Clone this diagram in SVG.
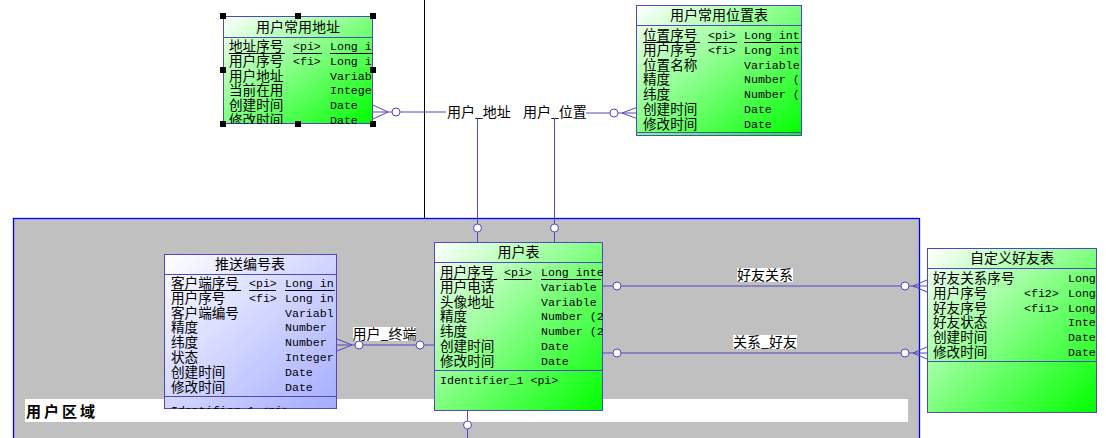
<svg xmlns="http://www.w3.org/2000/svg" width="1106" height="438" viewBox="0 0 1106 438">
<style>
.box{stroke:#5048c0;stroke-width:1}
.sep{stroke:#5048c0;stroke-width:1}
.t{font-family:"Noto Sans CJK SC","Noto Sans",sans-serif;font-size:14px;fill:#000}
.r{font-size:13.6px}
.m{font-family:"Liberation Mono",monospace;font-size:11.6px;fill:#000}
.title{text-anchor:middle}
.ul{stroke:#000;stroke-width:1}
.c{stroke:#5048c0;stroke-width:1;fill:none}
.o{stroke:#5048c0;stroke-width:1;fill:#fff}
.h{fill:#000}
.lb{fill:#fff}
</style>
<defs>
<linearGradient id="g" x1="0" y1="0" x2="1" y2="1">
<stop offset="0" stop-color="#ffffff"/>
<stop offset="1" stop-color="#00ff00"/>
</linearGradient>
<linearGradient id="b" x1="0" y1="0" x2="1" y2="1">
<stop offset="0" stop-color="#ffffff"/>
<stop offset="1" stop-color="#a4acff"/>
</linearGradient>
<clipPath id="c1"><rect x="223" y="16" width="150" height="108"/></clipPath>
<clipPath id="c2"><rect x="636" y="5" width="166" height="131"/></clipPath>
<clipPath id="c3"><rect x="164" y="254" width="173" height="155"/></clipPath>
<clipPath id="c4"><rect x="434" y="242" width="169" height="169"/></clipPath>
<clipPath id="c5"><rect x="927" y="248" width="170" height="165"/></clipPath>
</defs>
<rect width="1106" height="438" fill="#fff"/>
<line x1="424.5" y1="0" x2="424.5" y2="218" stroke="#000" stroke-width="1"/>
<g id="area">
<rect x="13.5" y="218.5" width="906" height="230" fill="#c0c0c0" stroke="#0000ff" stroke-width="1.3"/>
<rect x="25" y="399" width="883" height="23" fill="#fff"/>
<text x="26" y="417" font-family="'Noto Sans CJK SC',sans-serif" font-size="15" font-weight="bold" letter-spacing="3">用户区域</text>
</g>
<g id="connectors">
<polyline class="c" points="373,105 388,112 373,119"/>
<line class="c" x1="373" y1="112" x2="392" y2="112"/>
<circle class="o" cx="396" cy="112" r="4"/>
<line class="c" x1="400" y1="112" x2="446" y2="112"/>
<text class="t" x="447" y="117">用户_地址</text>
<line class="c" x1="477.5" y1="118" x2="477.5" y2="224"/>
<circle class="o" cx="477.5" cy="228" r="4"/>
<line class="c" x1="477.5" y1="232" x2="477.5" y2="242"/>
<text class="t" x="523" y="117">用户_位置</text>
<line class="c" x1="586" y1="113" x2="610" y2="113"/>
<circle class="o" cx="614" cy="113" r="4"/>
<polyline class="c" points="638,107 622,113 638,119"/>
<line class="c" x1="618" y1="113" x2="638" y2="113"/>
<line class="c" x1="554.5" y1="118" x2="554.5" y2="224"/>
<circle class="o" cx="554.5" cy="228" r="4"/>
<line class="c" x1="554.5" y1="232" x2="554.5" y2="242"/>
<line class="c" x1="603" y1="286" x2="613" y2="286"/>
<circle class="o" cx="617" cy="286" r="4"/>
<line class="c" x1="621" y1="286" x2="901" y2="286"/>
<circle class="o" cx="905" cy="286" r="4"/>
<polyline class="c" points="927,280 913,286 927,292"/>
<line class="c" x1="909" y1="286" x2="927" y2="286"/>
<rect class="lb" x="737" y="268" width="56" height="14"/>
<text class="t title" x="765" y="280">好友关系</text>
<line class="c" x1="603" y1="353" x2="613" y2="353"/>
<circle class="o" cx="617" cy="353" r="4"/>
<line class="c" x1="621" y1="353" x2="901" y2="353"/>
<circle class="o" cx="905" cy="353" r="4"/>
<polyline class="c" points="927,347 913,353 927,359"/>
<line class="c" x1="909" y1="353" x2="927" y2="353"/>
<rect class="lb" x="733" y="335" width="64" height="14"/>
<text class="t title" x="765" y="347">关系_好友</text>
<polyline class="c" points="337,339 352,345 337,351"/>
<line class="c" x1="337" y1="345" x2="355" y2="345"/>
<circle class="o" cx="359" cy="345" r="4"/>
<line class="c" x1="363" y1="345" x2="416" y2="345"/>
<circle class="o" cx="420" cy="345" r="4"/>
<line class="c" x1="424" y1="345" x2="434" y2="345"/>
<rect class="lb" x="353" y="327" width="63" height="14"/>
<text class="t title" x="384.5" y="339">用户_终端</text>
<line class="c" x1="467.5" y1="411" x2="467.5" y2="421"/>
<circle class="o" cx="467.5" cy="425" r="4"/>
<line class="c" x1="467.5" y1="429" x2="467.5" y2="438"/>
</g>
<g id="addr">
<rect class="box" x="223.5" y="16.5" width="149" height="107" fill="url(#g)"/>
<line class="sep" x1="223" y1="37.5" x2="373" y2="37.5"/>
<text class="t title" x="298" y="32">用户常用地址</text>
<g clip-path="url(#c1)">
<text class="t r" x="229" y="51">地址序号</text><text class="m" x="293" y="50">&lt;pi&gt;</text><text class="m" x="330" y="50">Long i</text>
<line class="ul" x1="229" y1="53.5" x2="285" y2="53.5"/><line class="ul" x1="293" y1="53.5" x2="322" y2="53.5"/><line class="ul" x1="330" y1="53.5" x2="373" y2="53.5"/>
<text class="t r" x="229" y="65.8">用户序号</text><text class="m" x="293" y="64.8">&lt;fi&gt;</text><text class="m" x="330" y="64.8">Long i</text>
<text class="t r" x="229" y="80.6">用户地址</text><text class="m" x="330" y="79.6">Variab</text>
<text class="t r" x="229" y="95.4">当前在用</text><text class="m" x="330" y="94.4">Intege</text>
<text class="t r" x="229" y="110.2">创建时间</text><text class="m" x="330" y="109.2">Date</text>
<text class="t r" x="229" y="125">修改时间</text><text class="m" x="330" y="124">Date</text>
</g>
<rect class="h" x="220" y="13" width="6" height="6"/><rect class="h" x="295" y="13" width="6" height="6"/><rect class="h" x="370" y="13" width="6" height="6"/>
<rect class="h" x="220" y="67" width="6" height="6"/><rect class="h" x="370" y="67" width="6" height="6"/>
<rect class="h" x="220" y="121" width="6" height="6"/><rect class="h" x="295" y="121" width="6" height="6"/><rect class="h" x="370" y="121" width="6" height="6"/>
</g>
<g id="loc">
<rect class="box" x="636.5" y="5.5" width="165" height="130" fill="url(#g)"/>
<line class="sep" x1="636" y1="25.5" x2="802" y2="25.5"/>
<line class="sep" x1="636" y1="132.5" x2="802" y2="132.5"/>
<text class="t title" x="719" y="20">用户常用位置表</text>
<g clip-path="url(#c2)">
<text class="t r" x="643" y="40">位置序号</text><text class="m" x="708" y="39">&lt;pi&gt;</text><text class="m" x="744" y="39">Long int</text>
<line class="ul" x1="643" y1="42.5" x2="700" y2="42.5"/><line class="ul" x1="708" y1="42.5" x2="737" y2="42.5"/><line class="ul" x1="744" y1="42.5" x2="801" y2="42.5"/>
<text class="t r" x="643" y="54.8">用户序号</text><text class="m" x="708" y="53.8">&lt;fi&gt;</text><text class="m" x="744" y="53.8">Long int</text>
<text class="t r" x="643" y="69.6">位置名称</text><text class="m" x="744" y="68.6">Variable</text>
<text class="t r" x="643" y="84.4">精度</text><text class="m" x="744" y="83.4">Number (</text>
<text class="t r" x="643" y="99.2">纬度</text><text class="m" x="744" y="98.2">Number (</text>
<text class="t r" x="643" y="114">创建时间</text><text class="m" x="744" y="113">Date</text>
<text class="t r" x="643" y="128.8">修改时间</text><text class="m" x="744" y="127.8">Date</text>
</g>
</g>
<g id="push">
<rect class="box" x="164.5" y="254.5" width="172" height="154" fill="url(#b)"/>
<line class="sep" x1="164" y1="274.5" x2="337" y2="274.5"/>
<line class="sep" x1="164" y1="396.5" x2="337" y2="396.5"/>
<text class="t title" x="250" y="269">推送编号表</text>
<g clip-path="url(#c3)">
<text class="t r" x="171" y="288">客户端序号</text><text class="m" x="249" y="287">&lt;pi&gt;</text><text class="m" x="285" y="287">Long in</text>
<line class="ul" x1="171" y1="290.5" x2="241" y2="290.5"/><line class="ul" x1="249" y1="290.5" x2="276" y2="290.5"/><line class="ul" x1="285" y1="290.5" x2="335" y2="290.5"/>
<text class="t r" x="171" y="302.8">用户序号</text><text class="m" x="249" y="301.8">&lt;fi&gt;</text><text class="m" x="285" y="301.8">Long in</text>
<text class="t r" x="171" y="317.6">客户端编号</text><text class="m" x="285" y="316.6">Variabl</text>
<text class="t r" x="171" y="332.4">精度</text><text class="m" x="285" y="331.4">Number</text>
<text class="t r" x="171" y="347.2">纬度</text><text class="m" x="285" y="346.2">Number</text>
<text class="t r" x="171" y="362">状态</text><text class="m" x="285" y="361">Integer</text>
<text class="t r" x="171" y="376.8">创建时间</text><text class="m" x="285" y="375.8">Date</text>
<text class="t r" x="171" y="391.6">修改时间</text><text class="m" x="285" y="390.6">Date</text>
<text class="m" x="171" y="414">Identifier_1 &lt;pi&gt;</text>
</g>
</g>
<g id="user">
<rect class="box" x="434.5" y="242.5" width="168" height="168" fill="url(#g)"/>
<line class="sep" x1="434" y1="262.5" x2="603" y2="262.5"/>
<line class="sep" x1="434" y1="370.5" x2="603" y2="370.5"/>
<text class="t title" x="518.5" y="257">用户表</text>
<g clip-path="url(#c4)">
<text class="t r" x="440" y="277">用户序号</text><text class="m" x="504" y="276">&lt;pi&gt;</text><text class="m" x="541" y="276">Long inte</text>
<line class="ul" x1="440" y1="279.5" x2="497" y2="279.5"/><line class="ul" x1="504" y1="279.5" x2="532" y2="279.5"/><line class="ul" x1="541" y1="279.5" x2="601" y2="279.5"/>
<text class="t r" x="440" y="291.8">用户电话</text><text class="m" x="541" y="290.8">Variable</text>
<text class="t r" x="440" y="306.6">头像地址</text><text class="m" x="541" y="305.6">Variable</text>
<text class="t r" x="440" y="321.4">精度</text><text class="m" x="541" y="320.4">Number (2</text>
<text class="t r" x="440" y="336.2">纬度</text><text class="m" x="541" y="335.2">Number (2</text>
<text class="t r" x="440" y="351">创建时间</text><text class="m" x="541" y="350">Date</text>
<text class="t r" x="440" y="365.8">修改时间</text><text class="m" x="541" y="364.8">Date</text>
<text class="m" x="440" y="384">Identifier_1 &lt;pi&gt;</text>
</g>
</g>
<g id="friend">
<rect class="box" x="927.5" y="248.5" width="169" height="164" fill="url(#g)"/>
<line class="sep" x1="927" y1="268.5" x2="1097" y2="268.5"/>
<line class="sep" x1="927" y1="361.5" x2="1097" y2="361.5"/>
<text class="t title" x="1012" y="263">自定义好友表</text>
<g clip-path="url(#c5)">
<text class="t r" x="933" y="283">好友关系序号</text><text class="m" x="1068" y="282">Long</text>
<text class="t r" x="933" y="297.8">用户序号</text><text class="m" x="1024" y="296.8">&lt;fi2&gt;</text><text class="m" x="1068" y="296.8">Long</text>
<text class="t r" x="933" y="312.6">好友序号</text><text class="m" x="1024" y="311.6">&lt;fi1&gt;</text><text class="m" x="1068" y="311.6">Long</text>
<text class="t r" x="933" y="327.4">好友状态</text><text class="m" x="1068" y="326.4">Inte</text>
<text class="t r" x="933" y="342.2">创建时间</text><text class="m" x="1068" y="341.2">Date</text>
<text class="t r" x="933" y="357">修改时间</text><text class="m" x="1068" y="356">Date</text>
</g>
</g>
</svg>
